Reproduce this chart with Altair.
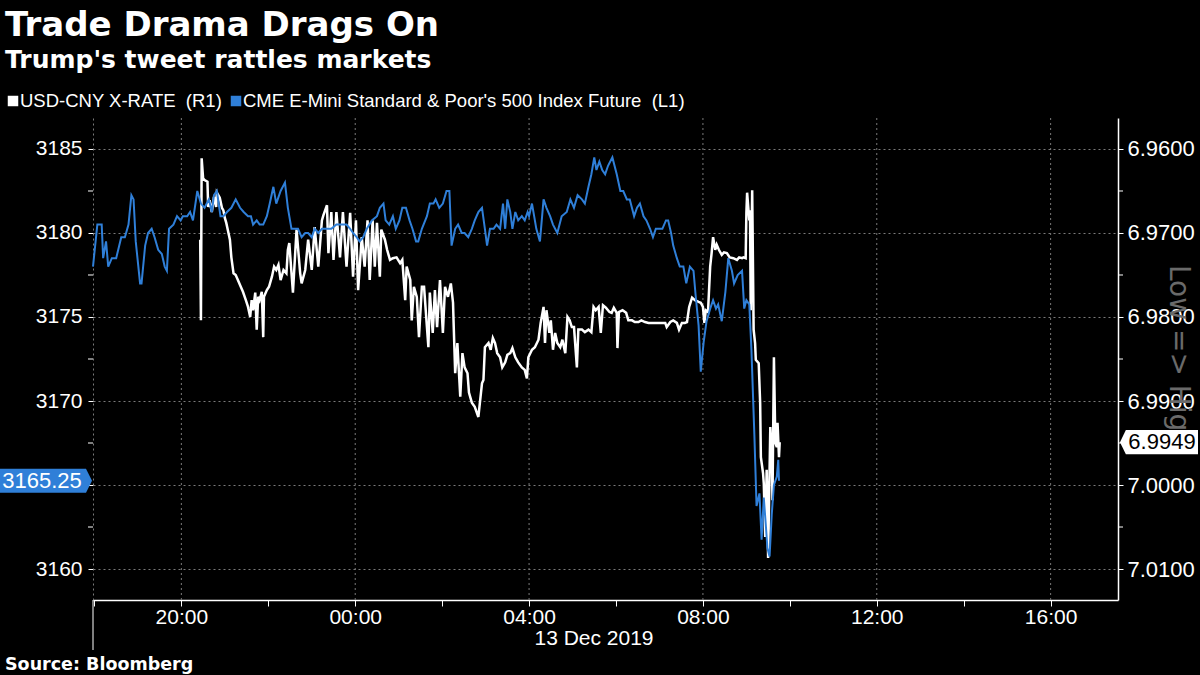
import altair as alt
import pandas as pd

# ---------------- data ----------------
# CME E-mini S&P 500 future (left axis): minutes after 2019-12-12 18:00, price
SPX_MIN = [-2, 4, 10, 12, 16, 19, 24, 30, 37, 42,
           47, 51, 54, 57, 63, 65, 70, 74, 79, 83,
           88, 93, 97, 100, 103, 109, 114, 119, 122, 128,
           132, 136, 142, 147, 152, 158, 162, 165, 169, 174,
           178, 183, 189, 195, 201, 206, 212, 216, 219, 224,
           228, 233, 238, 242, 247, 251, 257, 263, 267, 272,
           277, 281, 286, 291, 295, 300, 304, 309, 314, 320,
           327, 334, 341, 348, 353, 357, 362, 366, 371, 376,
           383, 390, 394, 399, 402, 407, 412, 416, 421, 425,
           430, 435, 439, 444, 447, 452, 459, 463, 468, 471,
           476, 481, 486, 490, 493, 498, 502, 507, 511, 516,
           521, 525, 530, 535, 539, 542, 546, 551, 555, 560,
           564, 567, 570, 574, 577, 581, 585, 590, 594, 598,
           600, 604, 607, 610, 615, 620, 624, 629, 633, 639,
           645, 652, 657, 662, 667, 673, 677, 682, 686, 690,
           693, 697, 701, 705, 709, 715, 721, 726, 730, 735,
           739, 745, 749, 753, 758, 762, 767, 771, 775, 780,
           784, 789, 792, 796, 799, 804, 808, 813, 817, 822,
           827, 830, 834, 837, 841, 845, 850, 854, 858, 861,
           866, 871, 875, 880, 883, 888, 894, 897, 900, 904,
           907, 911, 914, 918, 921, 924, 927, 929, 932, 935,
           938, 942, 944, 945]
SPX_VAL = [3178.0, 3180.5, 3180.5, 3178.5, 3179.5, 3178.0, 3178.5, 3178.5, 3179.75, 3179.75,
           3180.5, 3182.25, 3182.0, 3179.5, 3177.0, 3177.0, 3179.25, 3180.0, 3180.25, 3179.75,
           3179.0, 3178.75, 3178.0, 3177.75, 3180.25, 3180.5, 3181.0, 3180.75, 3181.0, 3181.0,
           3181.25, 3180.75, 3182.5, 3181.75, 3181.5, 3182.0, 3181.25, 3182.25, 3182.5, 3181.0,
           3181.0, 3181.25, 3181.5, 3182.0, 3181.5, 3181.25, 3181.0, 3181.0, 3180.5, 3180.75,
           3180.5, 3180.5, 3181.0, 3181.75, 3182.75, 3181.75, 3182.5, 3183.0, 3181.5, 3180.25,
           3180.25, 3180.25, 3179.75, 3180.0, 3180.0, 3179.75, 3180.25, 3180.0, 3180.25, 3180.25,
           3180.25, 3180.5, 3180.5, 3180.5, 3180.25, 3180.0, 3179.75, 3179.5, 3179.75, 3180.25,
           3180.75, 3181.0, 3181.5, 3181.75, 3180.75, 3180.5, 3181.0, 3180.25, 3180.75, 3181.5,
           3181.5, 3180.75, 3180.25, 3179.5, 3179.5, 3180.25, 3181.0, 3181.75, 3181.75, 3182.0,
           3181.5, 3181.75, 3182.5, 3182.5, 3179.25, 3180.25, 3180.5, 3180.0, 3180.0, 3179.75,
           3180.25, 3180.75, 3181.25, 3181.5, 3180.25, 3179.25, 3180.25, 3180.25, 3180.5, 3180.25,
           3181.75, 3180.25, 3182.0, 3181.25, 3180.25, 3181.25, 3180.75, 3181.0, 3180.75, 3181.25,
           3181.0, 3181.75, 3181.0, 3180.25, 3179.5, 3182.0, 3181.5, 3181.0, 3180.5, 3180.0,
           3181.0, 3181.25, 3182.0, 3181.5, 3182.25, 3182.0, 3181.75, 3182.75, 3183.5, 3184.5,
           3183.75, 3184.25, 3183.75, 3183.5, 3184.0, 3184.5, 3183.5, 3182.5, 3182.5, 3182.0,
           3182.0, 3181.0, 3181.5, 3181.75, 3181.0, 3180.75, 3180.25, 3179.75, 3180.25, 3180.25,
           3180.25, 3180.75, 3180.75, 3180.0, 3179.25, 3178.5, 3178.0, 3178.0, 3177.0, 3178.0,
           3177.75, 3176.25, 3174.5, 3171.75, 3173.5, 3174.75, 3175.5, 3176.0, 3175.5, 3175.75,
           3174.75, 3176.5, 3178.5, 3177.75, 3177.0, 3177.5, 3177.75, 3175.5, 3176.0, 3175.75,
           3173.0, 3168.0, 3163.75, 3164.5, 3161.75, 3164.25, 3162.5, 3161.25, 3160.75, 3163.25,
           3165.0, 3165.5, 3166.5, 3165.25]

# USD-CNY (right axis, inverted): minutes after 2019-12-12 18:00, rate
CNY_MIN = [146, 147, 148, 150, 152, 156, 157, 159, 162, 165,
           168, 169, 173, 176, 178, 180, 182, 185, 187, 189,
           192, 195, 198, 202, 205, 209, 212, 215, 217, 219,
           222, 224, 226, 228, 231, 233, 234, 238, 241, 245,
           248, 251, 254, 257, 261, 265, 267, 269, 274, 279,
           284, 286, 291, 295, 300, 304, 309, 314, 316, 321,
           323, 327, 330, 334, 339, 343, 348, 353, 357, 361,
           364, 369, 373, 377, 380, 384, 387, 390, 394, 396,
           401, 404, 408, 412, 417, 422, 425, 429, 431, 436,
           438, 441, 445, 448, 452, 455, 459, 461, 463, 467,
           470, 473, 477, 481, 484, 488, 492, 495, 496, 498,
           501, 505, 508, 511, 515, 517, 521, 525, 530, 535,
           537, 539, 544, 547, 550, 553, 556, 560, 563, 567,
           570, 574, 577, 581, 585, 590, 594, 597, 599, 604,
           608, 613, 616, 620, 622, 624, 628, 630, 633, 636,
           639, 643, 646, 650, 653, 656, 659, 662, 666, 668,
           673, 677, 682, 686, 689, 692, 696, 699, 702, 706,
           711, 714, 717, 721, 722, 724, 729, 734, 737, 742,
           746, 751, 755, 760, 765, 769, 774, 778, 783, 788,
           790, 795, 799, 804, 807, 811, 815, 818, 821, 825,
           829, 834, 837, 840, 842, 844, 847, 850, 852, 854,
           857, 859, 862, 866, 869, 873, 877, 882, 887, 890,
           894, 896, 899, 900, 901, 904, 905, 906, 908, 910,
           912, 913, 917, 919, 920, 923, 924, 926, 928, 930,
           933, 935, 936, 938, 940, 942, 943, 945, 946]
CNY_VAL = [6.9708, 6.9804, 6.9611, 6.9635, 6.9637, 6.9639, 6.9669, 6.9661, 6.9675, 6.9657,
           6.9669, 6.9652, 6.9658, 6.9670, 6.9673, 6.9682, 6.9688, 6.9700, 6.9708, 6.9729,
           6.9748, 6.9750, 6.9756, 6.9764, 6.9770, 6.9780, 6.9788, 6.9800, 6.9780, 6.9792,
           6.9771, 6.9815, 6.9776, 6.9780, 6.9770, 6.9824, 6.9776, 6.9768, 6.9764, 6.9752,
           6.9740, 6.9744, 6.9738, 6.9756, 6.9744, 6.9748, 6.9720, 6.9712, 6.9771, 6.9696,
           6.9748, 6.9760, 6.9744, 6.9708, 6.9744, 6.9693, 6.9740, 6.9685, 6.9679, 6.9667,
           6.9724, 6.9675, 6.9732, 6.9675, 6.9729, 6.9675, 6.9740, 6.9676, 6.9752, 6.9685,
           6.9768, 6.9705, 6.9740, 6.9685, 6.9756, 6.9685, 6.9740, 6.9688, 6.9752, 6.9696,
           6.9708, 6.9720, 6.9732, 6.9730, 6.9729, 6.9736, 6.9732, 6.9780, 6.9740, 6.9756,
           6.9804, 6.9764, 6.9776, 6.9824, 6.9764, 6.9764, 6.9812, 6.9836, 6.9771, 6.9819,
           6.9768, 6.9812, 6.9756, 6.9819, 6.9764, 6.9776, 6.9760, 6.9783, 6.9812, 6.9867,
           6.9831, 6.9895, 6.9843, 6.9860, 6.9867, 6.9890, 6.9902, 6.9907, 6.9919, 6.9879,
           6.9875, 6.9836, 6.9831, 6.9839, 6.9825, 6.9831, 6.9843, 6.9848, 6.9860, 6.9854,
           6.9845, 6.9843, 6.9837, 6.9848, 6.9854, 6.9860, 6.9863, 6.9873, 6.9848, 6.9839,
           6.9836, 6.9827, 6.9807, 6.9788, 6.9831, 6.9792, 6.9819, 6.9804, 6.9839, 6.9819,
           6.9831, 6.9836, 6.9827, 6.9843, 6.9800, 6.9804, 6.9812, 6.9812, 6.9860, 6.9815,
           6.9815, 6.9818, 6.9815, 6.9818, 6.9788, 6.9792, 6.9788, 6.9819, 6.9786, 6.9789,
           6.9794, 6.9795, 6.9789, 6.9795, 6.9837, 6.9794, 6.9792, 6.9795, 6.9804, 6.9804,
           6.9806, 6.9806, 6.9804, 6.9806, 6.9807, 6.9807, 6.9807, 6.9807, 6.9807, 6.9807,
           6.9812, 6.9806, 6.9804, 6.9807, 6.9815, 6.9807, 6.9807, 6.9806, 6.9788, 6.9777,
           6.9780, 6.9782, 6.9783, 6.9788, 6.9807, 6.9792, 6.9794, 6.9740, 6.9724, 6.9705,
           6.9720, 6.9714, 6.9720, 6.9726, 6.9723, 6.9724, 6.9729, 6.9730, 6.9732, 6.9729,
           6.9730, 6.9729, 6.9730, 6.9676, 6.9652, 6.9685, 6.9673, 6.9792, 6.9649, 6.9815,
           6.9831, 6.9851, 6.9855, 6.9902, 6.9967, 6.9986, 6.9998, 7.0062, 6.9982, 7.0087,
           6.9931, 6.9962, 7.0018, 6.9848, 6.9950, 6.9955, 6.9926, 6.9967, 6.9949]

LEFT_TICKS = [3160, 3165, 3170, 3175, 3180, 3185]
LEFT_MINOR = [3162.5, 3167.5, 3172.5, 3177.5, 3182.5]
RIGHT_TICKS = [6.96, 6.97, 6.98, 6.99, 7.00, 7.01]
RIGHT_MINOR = [6.965, 6.975, 6.985, 6.995, 7.005]
TICK_HOURS = [(12, 18), (12, 20), (12, 22), (13, 0), (13, 2), (13, 4), (13, 6),
              (13, 8), (13, 10), (13, 12), (13, 14), (13, 16)]
GRID_HOURS = [(12, 20), (13, 0), (13, 4), (13, 8), (13, 12), (13, 16)]
LAST_SPX = [3165.25]
LAST_CNY = [6.9949]

TITLE = "Trade Drama Drags On"
SUBTITLE = "Trump's tweet rattles markets"
LEG_CNY = "USD-CNY X-RATE\u00a0\u00a0(R1)"
LEG_SPX = "CME E-Mini Standard & Poor's 500 Index Future\u00a0\u00a0(L1)"
SOURCE = "Source: Bloomberg"
DATE_LABEL = "13 Dec 2019"
LOWHIGH = "Low => High"

# ---------------- styling ----------------
W, H = 1025, 482
BLUE = "#2F7FD8"
GRID = "#7a7a7a"
SANS = "Liberation Sans"
BOLD = "DejaVu Sans"

base = pd.Timestamp("2019-12-12 18:00")
spx = pd.DataFrame({"t": base + pd.to_timedelta(SPX_MIN, unit="m"), "v": SPX_VAL})
cny = pd.DataFrame({"t": base + pd.to_timedelta(CNY_MIN, unit="m"), "v": CNY_VAL})
grid_df = pd.DataFrame({"t": [pd.Timestamp(2019, 12, d, h) for d, h in GRID_HOURS]})

xscale = alt.Scale(domain=[alt.DateTime(year=2019, month=12, date=12, hours=17, minutes=58),
                           alt.DateTime(year=2019, month=12, date=13, hours=17, minutes=33)])
xaxis = alt.Axis(
    values=[alt.DateTime(year=2019, month=12, date=d, hours=h) for d, h in TICK_HOURS],
    labelExpr="hours(datum.value) % 4 == 0 ? timeFormat(datum.value, '%H:%M') : ''",
    grid=False, domainColor="white", domainWidth=1.5, tickColor="white", tickSize=6,
    labelColor="white", labelFont=SANS, labelFontSize=21, labelPadding=0,
    title=None, labelFlush=False, labelOverlap=False)
xenc = alt.X("t:T", scale=xscale, axis=xaxis)

lscale = alt.Scale(domain=[3158.155, 3186.845], nice=False, zero=False)
# the 3165 label sits under the blue last-price tag in the reference, so it is not drawn
laxis = alt.Axis(orient="left", values=LEFT_TICKS, format="d", grid=True, gridColor=GRID,
                 gridDash=[2, 3], gridWidth=1, domainColor=GRID, domainDash=[2, 3],
                 tickColor="white", tickSize=5, labelColor="white", labelFont=SANS,
                 labelFontSize=21, labelPadding=6, title=None,
                 labelExpr="datum.value == 3165 ? '' : datum.label")
rscale = alt.Scale(domain=[6.95631, 7.01369], reverse=True, nice=False, zero=False)
raxis = alt.Axis(orient="right", values=RIGHT_TICKS, format=".4f", grid=False,
                 domainColor="white", domainWidth=1.5, tickColor="white", tickSize=5,
                 labelColor="white", labelFont=SANS, labelFontSize=22, labelPadding=4,
                 title=None)
ly = alt.Y("v:Q", scale=lscale, axis=laxis)
ry = alt.Y("v:Q", scale=rscale, axis=raxis)


def text_layer(txt, x, y, size, font, color="white", weight="normal", align="left",
               baseline="alphabetic", angle=0):
    return alt.Chart(pd.DataFrame({"s": [txt]})).mark_text(
        font=font, fontSize=size, fontWeight=weight, color=color, align=align,
        baseline=baseline, angle=angle).encode(text="s:N", x=alt.value(x), y=alt.value(y))


# ---- right-axis (USD-CNY) group ----
vgrid = alt.Chart(grid_df).mark_rule(color=GRID, strokeDash=[2, 3], strokeWidth=1).encode(
    x=xenc, y=alt.value(0), y2=alt.value(H))
rminor = alt.Chart(pd.DataFrame({"v": RIGHT_MINOR})).mark_rule(color="white").encode(
    y=ry, x=alt.value(W), x2=alt.value(W + 5))
cny_line = alt.Chart(cny).mark_line(color="white", strokeWidth=2.5).encode(x=xenc, y=ry)
lowhigh = text_layer(LOWHIGH, 1085, 239, 28, "DejaVu Sans", color="#6a6a6a",
                     align="center", baseline="middle", angle=90)
TAG_R = "M1,-0.31L-0.85,-0.31L-1,0L-0.85,0.31L1,0.31Z"
cny_tag = alt.Chart(pd.DataFrame({"v": LAST_CNY})).mark_point(
    shape=TAG_R, size=6084, filled=True, color="white", opacity=1, strokeWidth=0).encode(
    x=alt.value(W + 41), y=ry)
cny_tag_txt = alt.Chart(pd.DataFrame({"v": LAST_CNY})).mark_text(
    font=SANS, fontSize=22, color="black", align="center", baseline="middle").encode(
    x=alt.value(W + 44), y=ry, text=alt.Text("v:Q", format=".4f"))
right_group = alt.layer(vgrid, rminor, cny_line, lowhigh, cny_tag, cny_tag_txt)

# ---- left-axis (S&P) group ----
lminor = alt.Chart(pd.DataFrame({"v": LEFT_MINOR})).mark_rule(color="white").encode(
    y=ly, x=alt.value(-5), x2=alt.value(0))
spx_line = alt.Chart(spx).mark_line(color=BLUE, strokeWidth=2).encode(x=xenc, y=ly)
TAG_L = "M-1,-0.26L0.87,-0.26L1,0L0.87,0.26L-1,0.26Z"
spx_tag = alt.Chart(pd.DataFrame({"v": LAST_SPX})).mark_point(
    shape=TAG_L, size=8464, filled=True, color=BLUE, opacity=1, strokeWidth=0).encode(
    x=alt.value(-47), y=ly)
spx_tag_txt = alt.Chart(pd.DataFrame({"v": LAST_SPX})).mark_text(
    font=SANS, fontSize=22, color="white", align="center", baseline="middle").encode(
    x=alt.value(-51), y=ly, text=alt.Text("v:Q", format=".2f"))

leg_sq = alt.Chart(pd.DataFrame({"c": ["w", "b"], "px": [-80, 143]})).mark_square(
    size=110, opacity=1).encode(
    x=alt.X("px:Q", scale=None), y=alt.value(-17),
    color=alt.Color("c:N", scale=alt.Scale(domain=["w", "b"], range=["white", BLUE]),
                    legend=None))
left_edge = alt.Chart(pd.DataFrame({"a": [0]})).mark_rule(color="white", strokeWidth=1).encode(
    x=alt.value(0), y=alt.value(H), y2=alt.value(H + 50))

left_group = alt.layer(
    lminor, spx_line, spx_tag, spx_tag_txt,
    text_layer(TITLE, -88, -82, 34, BOLD, weight="bold"),
    text_layer(SUBTITLE, -88, -50, 25, BOLD, weight="bold"),
    leg_sq,
    text_layer(LEG_CNY, -73, -17, 18.5, SANS, baseline="middle"),
    text_layer(LEG_SPX, 150, -17, 18.5, SANS, baseline="middle"),
    text_layer(DATE_LABEL, 501, 521, 21, SANS, align="center", baseline="middle"),
    text_layer(SOURCE, -88, 552, 17.5, BOLD, weight="bold"),
    left_edge,
)

chart = alt.layer(right_group, left_group).resolve_scale(y="independent").properties(
    width=W, height=H, background="black", autosize="none",
    padding={"left": 93, "top": 118, "right": 82, "bottom": 75},
).configure_view(stroke=None)

chart.save("out.html", embed_options={"renderer": "svg", "actions": False})
